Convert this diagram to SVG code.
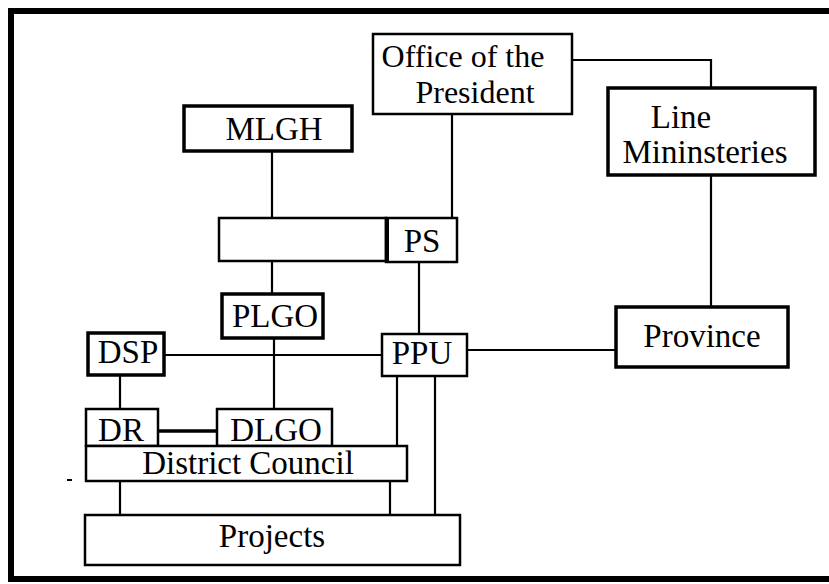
<svg xmlns="http://www.w3.org/2000/svg" width="829" height="584" viewBox="0 0 829 584">
  <style>
    .box { fill: #ffffff; stroke: #000000; stroke-width: 2.5; }
    .heavy { stroke-width: 3.5; }
    .link { fill: none; stroke: #000000; stroke-width: 2.2; }
    .frame { fill: none; stroke: #000000; stroke-width: 6; }
    text { font-family: "Liberation Serif", "Times New Roman", serif; font-size: 33px; fill: #000000; text-anchor: middle; }
    .two { font-size: 32px; }
  </style>
  <rect width="829" height="584" fill="#ffffff"/>

  <!-- outer frame (open on the right) -->
  <path class="frame" d="M 832 11 L 11 11 L 11 579 L 832 579"/>
  <line x1="67" y1="480" x2="72" y2="480" stroke="#000" stroke-width="2"/>

  <!-- connectors -->
  <g id="connectors">
    <polyline class="link" points="572,60 711,60 711,88"/>
    <line class="link" x1="272" y1="151" x2="272" y2="294"/>
    <line class="link" x1="452" y1="114" x2="452" y2="218"/>
    <line class="link" x1="419" y1="262" x2="419" y2="334"/>
    <line class="link" x1="164" y1="355" x2="382" y2="355"/>
    <line class="link" x1="274" y1="338" x2="274" y2="409"/>
    <line class="link" x1="467" y1="350" x2="616" y2="350"/>
    <line class="link" x1="711" y1="175" x2="711" y2="307"/>
    <line class="link" x1="120" y1="375" x2="120" y2="409"/>
    <line class="link" x1="158" y1="431" x2="217" y2="431" style="stroke-width:3.5"/>
    <line class="link" x1="397" y1="376" x2="397" y2="446"/>
    <line class="link" x1="435" y1="376" x2="435" y2="515"/>
    <line class="link" x1="120" y1="481" x2="120" y2="515"/>
    <line class="link" x1="390" y1="481" x2="390" y2="515"/>
  </g>

  <g id="office">
    <rect class="box" x="373" y="34" width="199" height="80"/>
    <text class="two" x="463" y="67">Office of the</text>
    <text class="two" x="475" y="103">President</text>
  </g>

  <g id="line-ministeries">
    <rect class="box heavy" x="608" y="88" width="207" height="87"/>
    <text x="681" y="128">Line</text>
    <text x="705" y="163">Mininsteries</text>
  </g>

  <g id="mlgh">
    <rect class="box heavy" x="184" y="106" width="168" height="45"/>
    <text x="274" y="140">MLGH</text>
  </g>

  <g id="blank">
    <rect class="box" x="219" y="218" width="167" height="43"/>
  </g>

  <g id="ps">
    <rect class="box" x="386" y="218" width="71" height="44"/>
    <line x1="387" y1="218" x2="387" y2="262" stroke="#000" stroke-width="4"/>
    <text x="422" y="252">PS</text>
  </g>

  <g id="plgo">
    <rect class="box heavy" x="222" y="294" width="101" height="44"/>
    <text x="275" y="327">PLGO</text>
  </g>

  <g id="dsp">
    <rect class="box heavy" x="88" y="333" width="76" height="42"/>
    <text x="128" y="363">DSP</text>
  </g>

  <g id="ppu">
    <rect class="box" x="382" y="334" width="85" height="42"/>
    <text x="422" y="364">PPU</text>
  </g>

  <g id="province">
    <rect class="box heavy" x="616" y="307" width="172" height="60"/>
    <text x="702" y="347">Province</text>
  </g>

  <g id="dr">
    <rect class="box" x="86" y="409" width="72" height="37"/>
    <text x="121" y="441">DR</text>
  </g>

  <g id="dlgo">
    <rect class="box" x="217" y="409" width="115" height="37"/>
    <text x="276" y="441">DLGO</text>
  </g>

  <g id="district-council">
    <rect class="box" x="86" y="446" width="321" height="35"/>
    <text x="248" y="474">District Council</text>
  </g>

  <g id="projects">
    <rect class="box" x="85" y="515" width="375" height="50"/>
    <text x="272" y="547">Projects</text>
  </g>
</svg>
